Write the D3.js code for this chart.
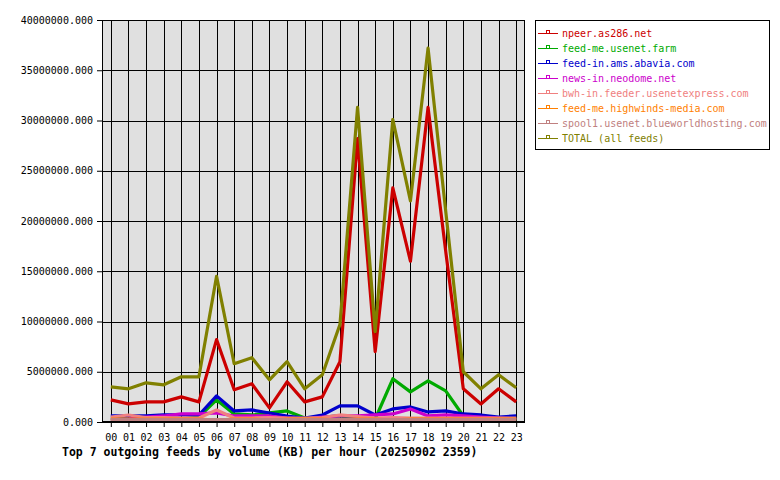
<!DOCTYPE html>
<html>
<head>
<meta charset="utf-8">
<script src="https://cdn.jsdelivr.net/npm/d3@7"></script>
<style>
  body { margin: 0; background: #fff; }
  text { font-family: "DejaVu Sans Mono", monospace; }
</style>
</head>
<body>
<div id="chart"></div>
<script>
var hours = ["00","01","02","03","04","05","06","07","08","09","10","11",
             "12","13","14","15","16","17","18","19","20","21","22","23"];

var feedNames = ["npeer.as286.net", "feed-me.usenet.farm", "feed-in.ams.abavia.com",
  "news-in.neodome.net", "bwh-in.feeder.usenetexpress.com", "feed-me.highwinds-media.com",
  "spool1.usenet.blueworldhosting.com", "TOTAL (all feeds)"];

// KB per hour
var npeer    = [2200000,1800000,2000000,2000000,2500000,2000000,8200000,3200000,3800000,1400000,4000000,2000000,
                2500000,6000000,28200000,7000000,23300000,16000000,31300000,17000000,3300000,1800000,3300000,2000000];
var usenetFarm = [300000,300000,300000,300000,300000,500000,2200000,800000,700000,900000,1100000,400000,
                500000,600000,300000,300000,4300000,3000000,4100000,3100000,600000,400000,200000,200000];
var abavia   = [600000,600000,600000,700000,700000,700000,2600000,1100000,1200000,900000,600000,400000,
                700000,1600000,1600000,700000,1300000,1500000,1000000,1100000,800000,700000,500000,600000];
var neodome  = [200000,300000,500000,600000,800000,800000,900000,600000,600000,600000,400000,300000,
                500000,600000,600000,700000,800000,1300000,600000,700000,600000,500000,400000,300000];
var bwh      = [500000,700000,450000,450000,400000,400000,1200000,400000,400000,450000,400000,400000,
                450000,700000,550000,400000,450000,400000,400000,400000,400000,400000,400000,400000];
var highwinds = [300000,300000,300000,300000,300000,300000,200000,300000,300000,200000,300000,300000,
                300000,200000,300000,300000,200000,300000,300000,300000,300000,300000,300000,300000];
var spool1   = [250000,250000,250000,250000,250000,250000,250000,250000,250000,250000,250000,250000,
                250000,250000,250000,250000,250000,250000,250000,250000,250000,250000,250000,250000];
var total    = [3500000,3300000,3900000,3700000,4500000,4500000,14500000,5800000,6400000,4200000,6000000,3300000,
                4700000,9700000,31300000,9000000,30100000,22000000,37200000,21000000,5000000,3300000,4700000,3400000];

var yTicks = [0,5000000,10000000,15000000,20000000,25000000,30000000,35000000,40000000];
var colors = ["#cc0000","#00aa00","#0000cc","#cc00cc","#f08080","#ff8000","#c08080","#808000"];
var series = [npeer, usenetFarm, abavia, neodome, bwh, highwinds, spool1, total];

var W = 780, H = 480;
var plotL = 102, plotR = 525, plotT = 20, plotB = 422;

var svg = d3.select("#chart").append("svg")
    .attr("width", W)
    .attr("height", H);

var x = d3.scalePoint().domain(hours).range([plotL, plotR]).padding(0.5);
var y = d3.scaleLinear().domain([0, 40000000]).range([plotB, plotT]);

svg.append("rect")
    .attr("x", plotL).attr("y", plotT)
    .attr("width", plotR - plotL).attr("height", plotB - plotT)
    .attr("fill", "#e0e0e0");

// grid
svg.append("g").selectAll("line")
    .data(hours)
  .enter().append("line")
    .attr("x1", function(d) { return Math.round(x(d)) + 0.5; })
    .attr("x2", function(d) { return Math.round(x(d)) + 0.5; })
    .attr("y1", plotT).attr("y2", plotB)
    .attr("stroke", "#000").attr("stroke-width", 1);

svg.append("g").selectAll("line")
    .data(yTicks)
  .enter().append("line")
    .attr("x1", plotL).attr("x2", plotR)
    .attr("y1", function(d) { return Math.round(y(d)) + 0.5; })
    .attr("y2", function(d) { return Math.round(y(d)) + 0.5; })
    .attr("stroke", "#000").attr("stroke-width", 1);

// axes
var yAxis = d3.axisLeft(y).tickValues(yTicks).tickFormat(d3.format(".3f")).tickSize(5).tickPadding(4);
var xAxis = d3.axisBottom(x).tickSize(5).tickPadding(7);

var gy = svg.append("g").attr("transform", "translate(" + plotL + ",0)").call(yAxis);
var gx = svg.append("g").attr("transform", "translate(0," + plotB + ")").call(xAxis);
[gy, gx].forEach(function(g) {
  g.select(".domain").remove();
  g.selectAll("line").attr("stroke", "#000");
  g.selectAll("text").attr("fill", "#000").style("font-size", "10px")
    .style("font-family", "'DejaVu Sans Mono', monospace");
});

// lines
var line = d3.line()
    .x(function(d, i) { return x(hours[i]); })
    .y(function(d) { return y(d); });

series.forEach(function(s, k) {
  svg.append("path")
      .datum(s)
      .attr("d", line)
      .attr("fill", "none")
      .attr("stroke", colors[k])
      .attr("stroke-width", 3.2)
      .attr("stroke-linejoin", "round");
});

// plot frame
svg.append("rect")
    .attr("x", plotL + 0.5).attr("y", plotT + 0.5)
    .attr("width", plotR - plotL - 1).attr("height", plotB - plotT - 1)
    .attr("fill", "none").attr("stroke", "#000");

// legend
svg.append("rect")
    .attr("x", 535.5).attr("y", 20.5)
    .attr("width", 234).attr("height", 129)
    .attr("fill", "#fff").attr("stroke", "#000");

var leg = svg.append("g").selectAll("g")
    .data(feedNames)
  .enter().append("g")
    .attr("transform", function(d, i) { return "translate(0," + (33 + i * 15) + ")"; });

leg.append("line")
    .attr("x1", 538).attr("x2", 558).attr("y1", 0.5).attr("y2", 0.5)
    .attr("stroke", function(d, i) { return colors[i]; });
leg.append("rect")
    .attr("x", 546.5).attr("y", -2.5).attr("width", 3).attr("height", 3)
    .attr("fill", "none")
    .attr("stroke", function(d, i) { return colors[i]; });
leg.append("text")
    .attr("x", 562).attr("y", 4)
    .style("font-size", "10px")
    .attr("fill", function(d, i) { return colors[i]; })
    .text(function(d) { return d; });

svg.append("text")
    .attr("x", 62).attr("y", 456)
    .style("font-size", "11.5px")
    .style("font-weight", "bold")
    .text("Top 7 outgoing feeds by volume (KB) per hour (20250902 2359)");
</script>
</body>
</html>
